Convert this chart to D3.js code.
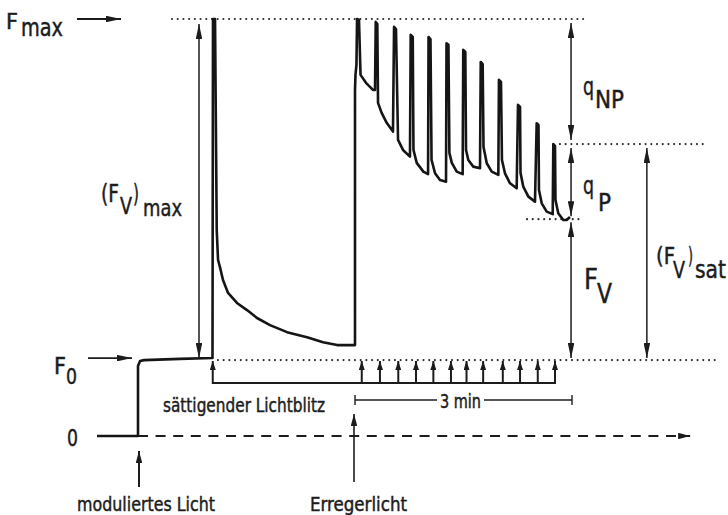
<!DOCTYPE html>
<html>
<head>
<meta charset="utf-8">
<script src="https://cdn.jsdelivr.net/npm/d3@7"></script>
<style>
  body { margin: 0; background: #fff; }
  text { font-family: "DejaVu Sans Condensed", "DejaVu Sans", sans-serif; fill: #1c1c1c; stroke: #1c1c1c; stroke-width: 0.45px; }
</style>
</head>
<body>
<svg id="chart" width="728" height="515"></svg>
<script>
// time in s (0 = Erregerlicht an), fluorescence in % of Fmax
const trace = [
  [-214, 0], [-180, 0], [-180, 16.8], [-178.3, 18.0], [-175, 18.2], [-145.2, 18.5], [-118.2, 18.7],
  [-117.8, 100], [-116.1, 100], [-114.7, 49.4], [-113.6, 42.2], [-112, 40.5], [-109.5, 37.4],
  [-105.3, 34.3], [-97.9, 31.9], [-89.6, 30.2], [-81.3, 28.3], [-70.5, 26.6], [-56.4, 24.9],
  [-39.8, 23.7], [-26.5, 22.5], [-14.9, 21.8], [0, 21.8],
  [0, 83.0], [0.4, 86.6], [1.2, 89.0], [1.7, 100], [3.3, 99.8], [4.6, 86.6], [9.1, 84.7], [14.9, 83.0],
  [16.6, 83.0], [17.2, 99.3], [18.5, 98.8], [19.1, 79.9], [22.1, 77.5], [26.3, 75.1], [31.5, 73.0],
  [32.4, 98.1], [34.0, 97.6], [35.7, 71.0], [39.8, 68.6], [45.6, 67.0],
  [46.2, 96.2], [47.9, 95.7], [48.5, 68.6], [51.2, 65.5], [56.7, 63.4], [60.6, 62.8],
  [61.0, 95.7], [62.6, 95.2], [63.5, 66.2], [66.4, 63.0], [70.5, 61.4], [75.5, 61.0],
  [75.9, 94.2], [77.5, 93.8], [78.3, 67.9], [80.3, 65.5], [84.4, 63.4], [89.3, 62.8],
  [89.8, 92.6], [91.5, 92.1], [92.1, 68.6], [94.0, 66.2], [98.1, 64.6], [103.7, 64.2],
  [104.3, 89.7], [105.9, 89.2], [106.6, 69.3], [109.3, 65.4], [113.4, 63.4], [118.9, 62.6],
  [119.4, 85.4], [121.1, 84.9], [121.9, 66.2], [124.4, 63.0], [128.6, 60.6], [134.1, 59.4],
  [135.2, 79.4], [136.9, 78.9], [137.3, 63.1], [139.6, 59.8], [143.8, 57.4], [149.3, 56.2],
  [150.7, 75.0], [152.2, 74.6], [152.6, 59.0], [154.9, 55.8], [159.0, 53.8], [164.0, 53.2],
  [164.5, 70.0], [165.9, 69.5], [166.3, 56.6], [168.6, 53.4], [172.8, 51.8], [175.6, 51.8], [178.3, 52.5]
];

// saturating flashes
const firstFlash = -118;
const flashTimes = [5.6, 20.7, 35.9, 50.6, 65.0, 79.6, 92.5, 106.3, 122.6, 136.9, 151.6, 165.9];

// characteristic levels
const Fmax = 100;
const F0 = 18.2;
const FmPrime = 70;
const Fs = 52;

// events
const modLightOn = -180;
const actinicOn = 0;

const svg = d3.select('#chart');

let x = d3.scaleLinear().domain([-180, 180]).range([138, 572]);
let y = d3.scaleLinear().domain([0, 100]).range([436, 19]);

// arrow heads
let defs = svg.append('defs');
function marker(id, len, wid) {
    defs.append('marker')
        .attr('id', id)
        .attr('viewBox', `0 0 ${len} ${wid}`)
        .attr('refX', len).attr('refY', wid / 2)
        .attr('markerWidth', len).attr('markerHeight', wid)
        .attr('markerUnits', 'userSpaceOnUse')
        .attr('orient', 'auto-start-reverse')
        .append('path')
        .attr('d', `M0,0L${len},${wid / 2}L0,${wid}Z`)
        .attr('fill', '#1c1c1c');
}
marker('big', 15, 6.5);
marker('mid', 12, 6.5);
marker('small', 9, 6);

function arrow(x1, y1, x2, y2, head, both, w) {
    let l = svg.append('line')
        .attr('x1', x1).attr('y1', y1).attr('x2', x2).attr('y2', y2)
        .attr('stroke', '#1c1c1c').attr('stroke-width', w || 1.5)
        .attr('marker-end', `url(#${head})`);
    if (both) l.attr('marker-start', `url(#${head})`);
}

function dotted(t0, t1, f) {
    svg.append('line')
        .attr('x1', x(t0)).attr('x2', x(t1))
        .attr('y1', y(f)).attr('y2', y(f))
        .attr('stroke', '#2a2a2a').attr('stroke-width', 2.1)
        .attr('stroke-linecap', 'round')
        .attr('stroke-dasharray', '0.01 5.7');
}

// dotted reference levels
dotted(-151.8, 190.8, Fmax);
dotted(-113.7, 300, F0);
dotted(170, 292.8, FmPrime);
dotted(142.7, 190, Fs);

// zero line (dashed) with arrow
svg.append('line')
    .attr('x1', x(modLightOn)).attr('x2', x(278))
    .attr('y1', y(0)).attr('y2', y(0))
    .attr('stroke', '#1c1c1c').attr('stroke-width', 2)
    .attr('stroke-dasharray', '10 7.6')
    .attr('marker-end', 'url(#mid)');

// fluorescence trace
let line = d3.line().x(d => x(d[0])).y(d => y(d[1]));
svg.append('path')
    .datum(trace)
    .attr('d', line)
    .attr('fill', 'none')
    .attr('stroke', '#151515')
    .attr('stroke-width', 2.6)
    .attr('stroke-linejoin', 'round');

// flash markers
let allFlashes = [firstFlash].concat(flashTimes);
svg.append('line')
    .attr('x1', x(firstFlash)).attr('x2', x(flashTimes[flashTimes.length - 1]))
    .attr('y1', 383).attr('y2', 383)
    .attr('stroke', '#1c1c1c').attr('stroke-width', 2);
allFlashes.forEach(t => arrow(x(t), 384, x(t), 361, 'small', false, 2));

// 3 min bar
svg.append('line').attr('x1', x(0)).attr('x2', 437).attr('y1', 400).attr('y2', 400)
    .attr('stroke', '#1c1c1c').attr('stroke-width', 1.4);
svg.append('line').attr('x1', 484).attr('x2', x(180)).attr('y1', 400).attr('y2', 400)
    .attr('stroke', '#1c1c1c').attr('stroke-width', 1.4);
[0, 180].forEach(t => svg.append('line')
    .attr('x1', x(t)).attr('x2', x(t)).attr('y1', 395).attr('y2', 405)
    .attr('stroke', '#1c1c1c').attr('stroke-width', 1.4));

// light-on arrows
arrow(x(modLightOn) + 1, 487, x(modLightOn) + 1, 451, 'mid', false, 2);
arrow(x(actinicOn) - 1, 482, x(actinicOn) - 1, 414, 'mid', false, 1.6);

// level arrows at the left
arrow(77, y(Fmax), 121, y(Fmax), 'big', false, 1.8);
arrow(88, y(F0) - 2, 132, y(F0) - 2, 'big', false, 1.8);

// double arrows
let xa = x(-129.4);
arrow(xa, y(Fmax) + 5, xa, y(F0) - 2, 'big', true, 1.5);
let xq = x(179.2);
arrow(xq, y(Fmax) + 4, xq, y(FmPrime) - 4, 'big', true, 1.5);
arrow(xq, y(FmPrime) + 4, xq, y(Fs) - 3, 'big', true, 1.5);
arrow(xq, y(Fs) + 3, xq, y(F0) - 2, 'big', true, 1.5);
let xs = x(242.1);
arrow(xs, y(FmPrime) + 4, xs, y(F0) - 2, 'big', true, 1.5);

// labels
function label(str, lx, ly, size, w) {
    let t = svg.append('text').attr('x', lx).attr('y', ly)
        .attr('font-size', size).text(str);
    if (w) t.attr('textLength', w).attr('lengthAdjust', 'spacingAndGlyphs');
    return t;
}
label('F', 6, 29, 22, 12);
label('max', 21, 36, 24, 42);

label('F', 54, 374, 23, 12);
label('0', 66, 384, 22, 11);
label('0', 67, 446, 23, 11);

label('(F', 101, 202, 24, 18);
label('V', 120, 214, 23, 12);
label(')', 133, 202, 24, 6);
label('max', 143, 216, 23, 39);

label('q', 583, 95, 24, 11);
label('NP', 595, 108, 25, 29);
label('q', 583, 194, 24, 11);
label('P', 598, 211, 24, 13);
label('F', 584, 289, 28, 14);
label('V', 597, 303, 27, 15);

label('(F', 656, 264, 23, 19);
label('V', 673, 278, 23, 12);
label(')', 688, 264, 23, 5);
label('sat', 695, 278, 25, 31);

label('3 min', 440, 408, 19, 41);
label('sättigender Lichtblitz', 163, 412, 20, 162);
label('moduliertes Licht', 77, 511, 20, 138);
label('Erregerlicht', 310, 511, 20, 97);
</script>
</body>
</html>
